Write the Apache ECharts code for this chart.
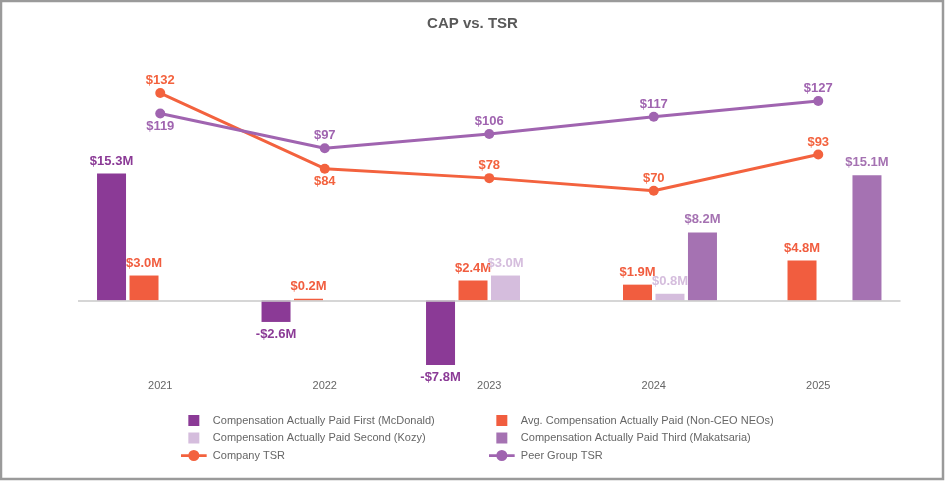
<!DOCTYPE html>
<html>
<head>
<meta charset="utf-8">
<title>CAP vs. TSR</title>
<script src="https://cdn.jsdelivr.net/npm/echarts@6/dist/echarts.min.js"></script>
<style>
  html, body { margin: 0; padding: 0; background: #fff; }
  #chart { width: 945px; height: 481px; }
</style>
</head>
<body>
<div id="chart"></div>
<script>
// data
var years = ['2021', '2022', '2023', '2024', '2025'];
var capMcDonald = [15.3, -2.6, -7.8, null, null];
var capNonCeo = [3.0, 0.2, 2.4, 1.9, 4.8];
var capKozy = [null, null, 3.0, 0.8, null];
var capMakatsaria = [null, null, null, 8.2, 15.1];
var companyTsr = [132, 84, 78, 70, 93];
var peerTsr = [119, 97, 106, 117, 127];
// where each TSR label sits
var companyLabelPos = ['top', 'bottom', 'top', 'top', 'top'];
var peerLabelPos = ['bottom', 'top', 'top', 'top', 'top'];

var FONT = '"Liberation Sans", Arial, sans-serif';

function money(v) {
    return (v < 0 ? '-$' : '$') + Math.abs(v).toFixed(1) + 'M';
}

// bar data items: negative values get their label below the bar
function barItems(arr) {
    return arr.map(function (v) {
        if (v === null) return null;
        return { value: v, label: { position: v < 0 ? 'bottom' : 'top' } };
    });
}

function lineItems(arr, pos) {
    return arr.map(function (v, i) {
        return { value: v, label: { position: pos[i] } };
    });
}

function barSeries(name, arr, color) {
    return {
        name: name,
        type: 'bar',
        yAxisIndex: 0,
        barWidth: 29,
        barGap: '12%',
        itemStyle: { color: color },
        label: {
            show: true,
            color: color,
            fontFamily: FONT,
            fontWeight: 'bold',
            fontSize: 13,
            distance: 6,
            formatter: function (p) { return money(p.value); }
        },
        data: barItems(arr)
    };
}

function lineSeries(name, arr, pos, color) {
    return {
        name: name,
        type: 'line',
        yAxisIndex: 1,
        z: 5,
        symbol: 'circle',
        symbolSize: 10,
        lineStyle: { color: color, width: 3 },
        itemStyle: { color: color },
        label: {
            show: true,
            color: color,
            fontFamily: FONT,
            fontWeight: 'bold',
            fontSize: 13,
            distance: 1,
            formatter: function (p) { return '$' + p.value; }
        },
        data: lineItems(arr, pos)
    };
}

var sq = 'path://M0,0h10v10h-10z';
// legend icon for the TSR lines: thick line with a dot in the middle
var lineDot = 'path://M0,4.5h28v3h-28z M20,6a6,6 0 1,1 -12,0a6,6 0 1,1 12,0z';
var legendText = { color: '#666', fontFamily: FONT, fontSize: 11 };

var myChart = echarts.init(document.getElementById('chart'));
var option = {
    backgroundColor: '#fff',
    animation: false,
    title: {
        text: 'CAP vs. TSR',
        left: 'center',
        top: 11,
        textStyle: { color: '#595959', fontFamily: FONT, fontWeight: 'bold', fontSize: 15 }
    },
    graphic: [{
        type: 'rect',
        shape: { x: 1, y: 1, width: 942, height: 478 },
        style: { fill: null, stroke: '#9a9a9a', lineWidth: 2.5 },
        silent: true
    }],
    legend: [{
        orient: 'vertical',
        left: 176,
        top: 410,
        itemWidth: 28,
        itemHeight: 11,
        itemGap: 6.5,
        textStyle: legendText,
        data: [
            { name: 'Compensation Actually Paid First (McDonald)', icon: sq },
            { name: 'Compensation Actually Paid Second (Kozy)', icon: sq },
            { name: 'Company TSR', icon: lineDot }
        ]
    }, {
        orient: 'vertical',
        left: 484,
        top: 410,
        itemWidth: 28,
        itemHeight: 11,
        itemGap: 6.5,
        textStyle: legendText,
        data: [
            { name: 'Avg. Compensation Actually Paid (Non-CEO NEOs)', icon: sq },
            { name: 'Compensation Actually Paid Third (Makatsaria)', icon: sq },
            { name: 'Peer Group TSR', icon: lineDot }
        ]
    }],
    grid: { left: 78, right: 44.5, top: 60, bottom: 106 },
    xAxis: {
        type: 'category',
        data: years,
        axisLine: { show: false },
        axisTick: { show: false },
        axisLabel: { color: '#666', fontFamily: FONT, fontSize: 11, margin: 5 }
    },
    yAxis: [
        { type: 'value', min: -9, max: 29, show: false, splitLine: { show: false } },
        { type: 'value', min: -47, max: 153, show: false, splitLine: { show: false } }
    ],
    series: [
        barSeries('Compensation Actually Paid First (McDonald)', capMcDonald, '#8b3a96'),
        (function () {
            var s = barSeries('Avg. Compensation Actually Paid (Non-CEO NEOs)', capNonCeo, '#f15d3f');
            // zero line across the plot
            s.markLine = {
                silent: true,
                symbol: 'none',
                label: { show: false },
                lineStyle: { color: '#c8c8c8', width: 1.5, type: 'solid' },
                data: [{ yAxis: 0 }]
            };
            return s;
        })(),
        barSeries('Compensation Actually Paid Second (Kozy)', capKozy, '#d5bddd'),
        barSeries('Compensation Actually Paid Third (Makatsaria)', capMakatsaria, '#a572b2'),
        lineSeries('Company TSR', companyTsr, companyLabelPos, '#f3623e'),
        lineSeries('Peer Group TSR', peerTsr, peerLabelPos, '#a064b0')
    ]
};
myChart.setOption(option);
</script>
</body>
</html>
